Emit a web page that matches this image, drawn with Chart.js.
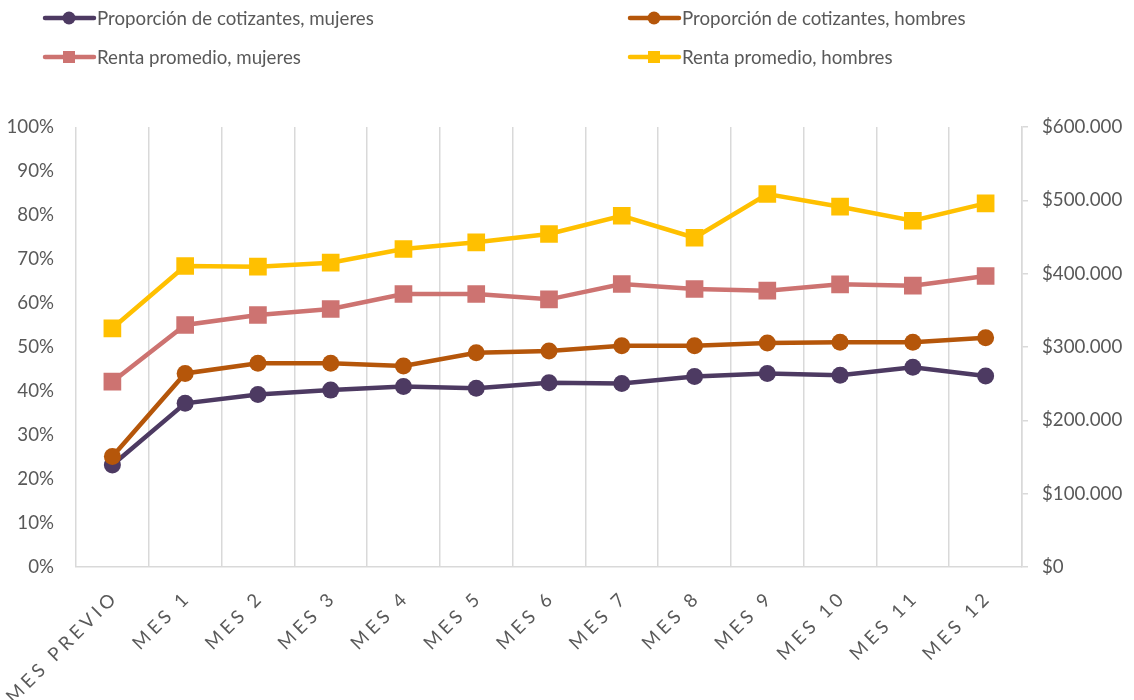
<!DOCTYPE html>
<html>
<head>
<meta charset="utf-8">
<script src="https://cdn.jsdelivr.net/npm/chart.js@4.4.1/dist/chart.umd.min.js"></script>
<style>
  html, body { margin: 0; padding: 0; background: #fff; }
  #wrap { width: 1134px; height: 700px; }
</style>
</head>
<body>
<div id="wrap"><canvas id="chart" width="1134" height="700"></canvas></div>
<script>
// datos
const categories = ['MES PREVIO', 'MES 1', 'MES 2', 'MES 3', 'MES 4', 'MES 5', 'MES 6',
  'MES 7', 'MES 8', 'MES 9', 'MES 10', 'MES 11', 'MES 12'];
const propMujeres = [23.2, 37.2, 39.2, 40.2, 41.0, 40.6, 41.9, 41.7, 43.3, 44.0, 43.6, 45.4, 43.4];
const propHombres = [25.1, 44.0, 46.3, 46.3, 45.7, 48.7, 49.1, 50.3, 50.3, 50.9, 51.1, 51.1, 52.1];
const rentaMujeres = [252700, 330000, 343600, 351800, 372300, 372300, 365000, 385900, 379100, 376800, 385500, 383600, 396800];
const rentaHombres = [325500, 410500, 409500, 415000, 433600, 442700, 454100, 479000, 449000, 508600, 491300, 472200, 495900];

const FONT = "Lato, 'Open Sans', sans-serif";
const TEXT = '#595959';
const GRID = '#D9D9D9';
const FS = 18.7;
const LABEL_ANGLE = 45;

const fmtPeso = (v) => '$' + String(v).replace(/\B(?=(\d{3})+(?!\d))/g, '.');

// leyenda en dos columnas, como en Excel
const legendSpots = [
  { x: 43, y: 18 }, { x: 628, y: 18 },
  { x: 43, y: 57 }, { x: 628, y: 57 }
];

const excelLegend = {
  id: 'excelLegend',
  afterDraw(chart) {
    const ctx = chart.ctx;
    chart.data.datasets.forEach((ds, i) => {
      const p = legendSpots[i];
      ctx.save();
      ctx.strokeStyle = ds.borderColor;
      ctx.lineWidth = 4.5;
      ctx.lineCap = 'round';
      ctx.beginPath();
      ctx.moveTo(p.x + 2, p.y);
      ctx.lineTo(p.x + 51, p.y);
      ctx.stroke();
      ctx.fillStyle = ds.borderColor;
      if (ds.pointStyle === 'rect') {
        ctx.fillRect(p.x + 26 - 6, p.y - 6, 12, 12);
      } else {
        ctx.beginPath();
        ctx.arc(p.x + 26, p.y, 6.5, 0, Math.PI * 2);
        ctx.fill();
      }
      ctx.fillStyle = TEXT;
      ctx.font = FS + 'px ' + FONT;
      ctx.textBaseline = 'middle';
      ctx.textAlign = 'left';
      ctx.fillText(ds.label, p.x + 54, p.y + 1);
      ctx.restore();
    });
  }
};

// etiquetas del eje x con letras espaciadas, giradas 45 grados
const spacedLabels = {
  id: 'spacedLabels',
  afterLayout(chart) {
    const s = chart.scales.x;
    if (s._spaced) return;
    s.drawLabels = function (area) {
      const ctx = this.ctx;
      const gap = 4;
      this.getLabelItems(area).forEach((it) => {
        const [tx, ty] = it.options.translation;
        ctx.save();
        ctx.translate(tx, ty);
        ctx.rotate(-LABEL_ANGLE * Math.PI / 180);
        ctx.font = it.font.string;
        ctx.fillStyle = it.options.color;
        ctx.textBaseline = 'middle';
        ctx.textAlign = 'left';
        const chars = Array.from(String(it.label));
        const widths = chars.map((c) => ctx.measureText(c).width);
        const total = widths.reduce((a, b) => a + b, 0) + gap * (chars.length - 1);
        let x = -total;
        chars.forEach((c, k) => {
          ctx.fillText(c, x, 0);
          x += widths[k] + gap;
        });
        ctx.restore();
      });
    };
    s._spaced = true;
  }
};

function lineSet(label, data, color, style, axis, order) {
  const r = style === 'rect' ? 12.5 : 8.5;
  return {
    label: label,
    data: data,
    yAxisID: axis,
    order: order,
    borderColor: color,
    backgroundColor: color,
    borderWidth: 4.5,
    pointStyle: style,
    pointRadius: r,
    pointHoverRadius: r,
    pointBorderWidth: 0,
    tension: 0
  };
}

new Chart(document.getElementById('chart'), {
  type: 'line',
  plugins: [excelLegend, spacedLabels],
  data: {
    labels: categories,
    datasets: [
      lineSet('Proporción de cotizantes, mujeres', propMujeres, '#4D3A62', 'circle', 'y', 4),
      lineSet('Proporción de cotizantes, hombres', propHombres, '#B5560A', 'circle', 'y', 3),
      lineSet('Renta promedio, mujeres', rentaMujeres, '#CD7371', 'rect', 'y1', 2),
      lineSet('Renta promedio, hombres', rentaHombres, '#FFC000', 'rect', 'y1', 1)
    ]
  },
  options: {
    responsive: false,
    animation: false,
    devicePixelRatio: 1,
    layout: { padding: { top: 127, left: 0, right: 0, bottom: 0 } },
    plugins: {
      legend: { display: false },
      tooltip: { enabled: false }
    },
    scales: {
      x: {
        offset: true,
        grid: { display: true, offset: true, color: GRID, lineWidth: 1.5, drawTicks: false },
        border: { display: true, color: GRID, width: 1.5 },
        ticks: {
          autoSkip: false,
          minRotation: LABEL_ANGLE,
          maxRotation: LABEL_ANGLE,
          padding: 30,
          labelOffset: 8,
          color: TEXT,
          font: { family: FONT, size: FS }
        },
        afterFit: (s) => { s.height = 133; }
      },
      y: {
        position: 'left',
        min: 0,
        max: 100,
        grid: { display: false, drawTicks: false },
        border: { display: false },
        ticks: {
          stepSize: 10,
          padding: 22,
          color: TEXT,
          font: { family: FONT, size: FS },
          callback: (v) => v + '%'
        },
        afterFit: (s) => { s.width = 76; }
      },
      y1: {
        position: 'right',
        min: 0,
        max: 600000,
        grid: { display: true, drawOnChartArea: false, drawTicks: true, tickLength: 6, color: GRID, lineWidth: 1.5 },
        border: { display: true, color: GRID, width: 1.5 },
        ticks: {
          stepSize: 100000,
          padding: 14,
          color: TEXT,
          font: { family: FONT, size: FS },
          callback: (v) => fmtPeso(v)
        },
        afterFit: (s) => { s.width = 112; }
      }
    }
  }
});
</script>
</body>
</html>
